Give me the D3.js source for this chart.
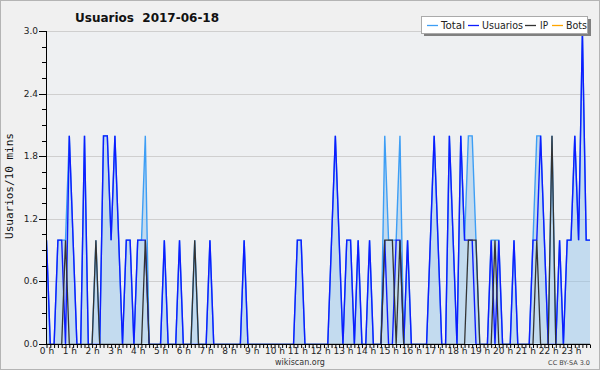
<!DOCTYPE html>
<html><head><meta charset="utf-8">
<script src="https://cdn.jsdelivr.net/npm/d3@7"></script>
<style>body{margin:0;background:#f0f0f0}svg{display:block}</style>
</head><body>
<svg id="c" width="600" height="370"></svg>
<script>
const title = "Usuarios  2017-06-18";
const hourLabels = d3.range(24).map(h => h + " h");
const yTickLabels = ["0.0","0.6","1.2","1.8","2.4","3.0"];
const seriesNames = ["Total","Usuarios","IP","Bots"];
// 144 points, 10-minute steps
const usuarios = [1,0,0,1,1,0,2,1,0,0, 2,0,0,0,0,2,2,1,2,1, 0,1,1,0,1,1,1,0,0,0,
  0,1,0,0,0,1,0,0,0,0, 0,0,0,1,0,0,0,0,0,0, 0,0,1,0,0,0,0,0,0,0,
  0,0,0,0,0,0,1,1,0,0, 0,0,0,0,0,1,2,1,0,1, 1,0,1,0,0,1,0,0,0,1,
  0,0,1,1,0,1,0,0,0,0, 0,1,2,1,0,0,2,1,0,2, 1,1,1,0,0,0,0,1,0,1,
  0,0,0,1,0,0,0,0,1,1, 2,1,0,0,0,1,0,1,1,2, 1,3,1,1];
const ip = new Array(144).fill(0);
const ipNonZero = [[5,1],[13,1],[26,1],[39,1],[89,1],[90,1],[91,1],[93,1],[111,1],[112,1],[113,1],[118,1],[129,1],[133,2]];
ipNonZero.forEach(([i,v]) => ip[i] = v);
const bots = new Array(144).fill(0);
const total = usuarios.map((u,i) => u + ip[i] + bots[i]);

const svg = d3.select("#c");
const W = 600, H = 370;
const x0 = 46.5, x1 = 590, yTop = 31.5, yBot = 344.5;

svg.append("rect").attr("x",0.5).attr("y",0.5).attr("width",W-1).attr("height",H-1)
  .attr("fill","#f0f0f0").attr("stroke","#b4b4b4");

const x = d3.scaleLinear().domain([0,143]).range([x0,x1]);
const y = d3.scaleLinear().domain([0,3]).range([yBot,yTop]);

svg.append("defs").append("clipPath").attr("id","plot").append("rect")
  .attr("x",47).attr("y",yTop-3).attr("width",x1-47+1).attr("height",yBot-yTop+3);

svg.append("rect").attr("x",47).attr("y",31).attr("width",x1-47).attr("height",344-31).attr("fill","#eef0f2");

// grid
svg.append("g").selectAll("line").data([0.6,1.2,1.8,2.4,3.0]).join("line")
  .attr("x1",47).attr("x2",x1).attr("y1",d=>Math.floor(y(d))+0.5).attr("y2",d=>Math.floor(y(d))+0.5)
  .attr("stroke","#cfcfcf").attr("stroke-width",1);

const idx = d3.range(144);
const plot = svg.append("g").attr("clip-path","url(#plot)");
const area = d3.area().x(i=>x(i)).y0(yBot).y1(i=>y(total[i]));
plot.append("path").datum(idx).attr("d",area).attr("fill","#8fc0ea").attr("fill-opacity",0.45);

function line(arr,color,w){
  plot.append("path").datum(idx).attr("d",d3.line().x(i=>x(i)).y(i=>y(arr[i])))
    .attr("fill","none").attr("stroke",color).attr("stroke-width",w).attr("stroke-linejoin","miter");
}
line(bots,"#ffa500",1);
line(total,"#3d9ef5",1.4);
line(usuarios,"#0d1cff",1.4);
line(ip,"#333333",1.3);

// axes (drawn on top)
const xAxis = d3.axisBottom(x).tickValues(d3.range(0,144)).tickSize(4)
  .tickFormat(i => i % 6 === 0 ? hourLabels[i/6] : "");
const gx = svg.append("g").attr("transform",`translate(0,344)`).call(xAxis);
gx.select(".domain").attr("stroke","#000").attr("stroke-width",1).attr("d",`M46,0.5H${x1+0.5}`);
gx.selectAll(".tick line").attr("stroke","#000").attr("y1",1);
gx.selectAll(".tick text").attr("font-family","DejaVu Sans").attr("font-size",9).attr("fill","#222")
  .attr("y",10).attr("dy",0);

const yAxis = d3.axisLeft(y).tickValues(d3.range(0,21).map(k=>k*0.15))
  .tickSize(4).tickFormat((d,k) => k % 4 === 0 ? yTickLabels[k/4] : "");
const gy = svg.append("g").attr("transform",`translate(46,0)`).call(yAxis);
gy.select(".domain").remove();
gy.selectAll(".tick").attr("transform",d=>`translate(0,${Math.floor(y(d))+0.5})`);
gy.selectAll(".tick line").attr("stroke","#000").attr("x1",0).attr("x2",(d,k)=> k%4===0 ? -7 : -4);
gy.selectAll(".tick text").attr("font-family","DejaVu Sans").attr("font-size",9).attr("fill","#222").attr("x",-8);
svg.append("line").attr("x1",46.5).attr("x2",46.5).attr("y1",31).attr("y2",345)
  .attr("stroke","#000").attr("stroke-width",1);

// title
svg.append("text").attr("x",75).attr("y",22).attr("font-family","DejaVu Sans").attr("font-weight","bold")
  .attr("font-size",12).attr("fill","#111").style("white-space","pre").text(title);

// y label
svg.append("text").attr("transform","translate(13,186) rotate(-90)").attr("text-anchor","middle")
  .attr("font-family","DejaVu Sans Mono").attr("font-size",11).attr("fill","#111").text("Usuarios/10 mins");

// legend
const lg = svg.append("g");
lg.append("rect").attr("x",424).attr("y",19).attr("width",167).attr("height",17).attr("fill","#808080");
lg.append("rect").attr("x",421.5).attr("y",16.5).attr("width",166).attr("height",17).attr("fill","#fff").attr("stroke","#aaa");
const legColors = ["#3d9ef5","#0d1cff","#333333","#ffa500"];
const legLineX = [427, 468, 525, 552];
const legTextX = [441, 482, 540, 566];
const legTextW = [24, 41, 8, 21];
seriesNames.forEach((n,k)=>{
  lg.append("line").attr("x1",legLineX[k]).attr("x2",legLineX[k]+11).attr("y1",25.5).attr("y2",25.5).attr("stroke",legColors[k]).attr("stroke-width",1.3);
  lg.append("text").attr("x",legTextX[k]).attr("y",29).attr("font-family","DejaVu Sans").attr("font-size",10)
    .attr("textLength",legTextW[k]).attr("lengthAdjust","spacingAndGlyphs").attr("fill","#222").text(n);
});

svg.append("text").attr("x",300).attr("y",365).attr("text-anchor","middle").attr("font-family","DejaVu Sans")
  .attr("font-size",8).attr("fill","#333").text("wikiscan.org");
svg.append("text").attr("x",590).attr("y",365).attr("text-anchor","end").attr("font-family","DejaVu Sans")
  .attr("font-size",6.5).attr("fill","#444").text("CC BY-SA 3.0");
</script>
</body></html>
